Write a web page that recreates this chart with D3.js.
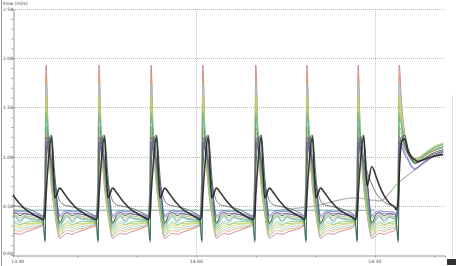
<!DOCTYPE html>
<html lang="en">
  <head>
    <meta charset="UTF-8" />
    <title>Flow</title>
    <script src="https://d3js.org/d3.v7.min.js"></script>
    <style>
      body { margin: 0; background: #fff; }
      text { font-family: "DejaVu Sans", sans-serif; fill: #444; }
    </style>
  </head>
  <body>
    <div id="graph"></div>
    <script>
      // minutes after 13:30
      var xTickMinutes = [0, 30, 60];
      var xTickLabels = ["13:30", "14:00", "14:30"];
      var yTicks = [0, 0.5, 1, 1.5, 2, 2.5];
      var yTickLabels = ["0.00", "0.50", "1.00", "1.50", "2.00", "2.50"];

      // time of each inspiratory spike (first one is left of the view)
      var peakTimes = [-4.05, 4.75, 13.65, 22.4, 31.1, 40.0, 48.6, 57.2, 64.1];

      // offsets (min) from the spike where the cycle values are read
      var cycleOffsets = [-0.5, -0.15, 0, 0.4, 0.9, 1.5, 2.3, 3.0, 3.6, 4.4, 5.2, 6.2, 7.9];
      var lastOffsets = [-0.5, -0.15, 0, 0.4, 0.9, 1.5, 2.0, 2.6, 3.2, 4.2, 5.5, 7.4];

      var seriesNames = ["red", "orange", "cyan", "yellow", "lime", "green", "teal",
        "seagreen", "olive", "darkgreen", "purple", "blue", "gray", "black"];
      var seriesColors = ["#c4606c", "#d9a05b", "#86d3e0", "#d3cc3c", "#a6cc5a", "#72bb72",
        "#4fae9e", "#5c9a78", "#9aa05c", "#2e5c44", "#7c62a8", "#4b4bc0", "#6a6a6a", "#222"];

      var cycleValues = [
        [0.30, 1.00, 1.93, 1.15, 0.72, 0.42, 0.17, 0.20, 0.22, 0.21, 0.23, 0.25, 0.29],
        [0.31, 0.95, 1.82, 1.12, 0.70, 0.42, 0.20, 0.23, 0.25, 0.24, 0.26, 0.27, 0.30],
        [0.32, 0.95, 1.74, 1.20, 0.75, 0.45, 0.19, 0.25, 0.28, 0.26, 0.28, 0.29, 0.31],
        [0.32, 0.90, 1.62, 1.18, 0.78, 0.48, 0.22, 0.27, 0.30, 0.28, 0.30, 0.31, 0.32],
        [0.33, 0.85, 1.52, 1.18, 0.80, 0.50, 0.24, 0.29, 0.32, 0.30, 0.32, 0.32, 0.33],
        [0.33, 0.80, 1.45, 1.20, 0.82, 0.52, 0.26, 0.31, 0.34, 0.31, 0.33, 0.34, 0.34],
        [0.34, 0.75, 1.40, 1.20, 0.85, 0.55, 0.28, 0.35, 0.39, 0.33, 0.38, 0.36, 0.35],
        [0.30, 0.13, 1.30, 1.18, 0.88, 0.58, 0.30, 0.37, 0.40, 0.35, 0.39, 0.37, 0.36],
        [0.36, 0.65, 1.25, 1.15, 0.90, 0.62, 0.33, 0.39, 0.41, 0.38, 0.40, 0.39, 0.37],
        [0.37, 0.15, 0.85, 1.15, 1.22, 0.80, 0.32, 0.41, 0.43, 0.40, 0.42, 0.41, 0.38],
        [0.38, 0.60, 1.20, 1.10, 0.92, 0.70, 0.38, 0.42, 0.43, 0.42, 0.42, 0.41, 0.39],
        [0.39, 0.55, 1.15, 1.08, 0.95, 0.72, 0.40, 0.44, 0.45, 0.44, 0.44, 0.43, 0.40],
        [0.40, 0.55, 1.00, 1.20, 0.98, 0.74, 0.55, 0.51, 0.50, 0.49, 0.48, 0.46, 0.41],
        [0.36, 0.42, 0.60, 0.95, 1.20, 0.58, 0.68, 0.63, 0.58, 0.52, 0.47, 0.43, 0.37]
      ];

      // the 14:27 cycle has a larger expiratory bump
      var grayCycle7 = [0.40, 0.55, 1.00, 1.20, 1.00, 0.85, 0.72, 0.63, 0.58, 0.54, 0.51, 0.49, 0.46];
      var blackCycle7 = [0.36, 0.42, 0.60, 0.95, 1.20, 0.70, 0.90, 0.80, 0.70, 0.60, 0.53, 0.48, 0.45];

      var lastValues = [
        [0.30, 1.00, 1.93, 1.55, 1.25, 1.08, 1.02, 0.98, 0.99, 1.02, 1.06, 1.10],
        [0.31, 0.95, 1.82, 1.50, 1.22, 1.06, 1.01, 0.97, 0.98, 1.02, 1.06, 1.10],
        [0.32, 0.95, 1.74, 1.45, 1.20, 1.05, 1.00, 0.96, 0.98, 1.03, 1.08, 1.12],
        [0.32, 0.90, 1.62, 1.40, 1.18, 1.05, 1.00, 0.96, 0.98, 1.03, 1.08, 1.13],
        [0.33, 0.85, 1.52, 1.36, 1.16, 1.04, 0.99, 0.95, 0.98, 1.03, 1.09, 1.14],
        [0.33, 0.80, 1.45, 1.33, 1.15, 1.04, 0.99, 0.95, 0.97, 1.02, 1.08, 1.13],
        [0.34, 0.75, 1.40, 1.30, 1.14, 1.03, 0.98, 0.94, 0.96, 1.01, 1.07, 1.12],
        [0.30, 0.13, 1.30, 1.25, 1.12, 1.03, 0.98, 0.94, 0.95, 1.00, 1.05, 1.10],
        [0.36, 0.65, 1.25, 1.22, 1.10, 1.02, 0.97, 0.93, 0.95, 1.00, 1.05, 1.09],
        [0.37, 0.15, 0.85, 1.15, 1.22, 1.08, 1.00, 0.93, 0.94, 0.98, 1.03, 1.07],
        [0.38, 0.60, 1.20, 1.15, 1.05, 0.98, 0.92, 0.88, 0.90, 0.95, 1.00, 1.05],
        [0.39, 0.55, 1.15, 1.10, 1.02, 0.96, 0.90, 0.87, 0.89, 0.94, 0.99, 1.04],
        [0.46, 0.55, 1.00, 1.20, 1.10, 1.02, 0.97, 0.93, 0.94, 0.98, 1.02, 1.05],
        [0.46, 0.55, 0.80, 1.15, 1.18, 1.05, 1.00, 0.97, 0.95, 0.97, 1.00, 1.02]
      ];

      var flatTimes = [-0.8, 60.0];
      var flatValues = [0.455, 0.455];
      var driftTimes = [44.0, 50.0, 56.5, 60.8, 63.9, 67.0, 71.5];
      var driftValues = [0.46, 0.5, 0.58, 0.55, 0.73, 0.88, 1.07];

      var width = 456,
        height = 266;
      var margin = { left: 13, right: 445, top: 9, bottom: 255 };

      var x = d3.scaleLinear().domain([-0.8, 71.8]).range([margin.left, margin.right]);
      var y = d3.scaleLinear().domain([0, 2.5]).range([margin.bottom, margin.top]);

      var svg = d3
        .select("#graph")
        .append("svg")
        .attr("width", width)
        .attr("height", height)
        .style("display", "block");

      svg.append("rect").attr("width", width).attr("height", height).attr("fill", "#fff");

      svg
        .append("clipPath")
        .attr("id", "plot")
        .append("rect")
        .attr("x", margin.left)
        .attr("y", 0)
        .attr("width", margin.right - margin.left)
        .attr("height", margin.bottom);

      // frame
      svg.append("line").attr("x1", 1.5).attr("x2", 1.5).attr("y1", 0).attr("y2", height)
        .attr("stroke", "#999").attr("stroke-width", 1);
      svg.append("line").attr("x1", 452.5).attr("x2", 452.5).attr("y1", 95).attr("y2", 258)
        .attr("stroke", "#e4e4e4").attr("stroke-width", 1);

      // grid
      svg
        .append("g")
        .selectAll("line")
        .data(yTicks.filter((d) => d > 0))
        .join("line")
        .attr("x1", margin.left)
        .attr("x2", margin.right)
        .attr("y1", (d) => Math.round(y(d)) + 0.5)
        .attr("y2", (d) => Math.round(y(d)) + 0.5)
        .attr("stroke", "#b8b8b8")
        .attr("stroke-dasharray", "1,1");

      svg
        .append("g")
        .selectAll("line")
        .data(xTickMinutes.filter((d) => d > 0))
        .join("line")
        .attr("x1", (d) => Math.round(x(d)) + 0.5)
        .attr("x2", (d) => Math.round(x(d)) + 0.5)
        .attr("y1", margin.top)
        .attr("y2", margin.bottom)
        .attr("stroke", "#c4c4c4")
        .attr("stroke-dasharray", "1,1");

      // axes
      var yAxis = svg
        .append("g")
        .attr("transform", "translate(" + (margin.left + 0.5) + ",0)")
        .call(d3.axisLeft(y).ticks(25).tickSize(2).tickFormat(""));
      yAxis.select(".domain").attr("stroke", "#999");
      yAxis.selectAll(".tick line").attr("stroke", "#999");

      var xAxis = svg
        .append("g")
        .attr("transform", "translate(0," + (margin.bottom + 0.5) + ")")
        .call(d3.axisBottom(x).tickValues(d3.range(0, 71, 10)).tickSize(2).tickFormat(""));
      xAxis.select(".domain").attr("stroke", "#999");
      xAxis.selectAll(".tick line").attr("stroke", "#999");

      svg
        .append("g")
        .selectAll("text")
        .data(yTicks)
        .join("text")
        .attr("x", 3)
        .attr("y", (d) => Math.min(y(d), 253) + 2)
        .attr("font-size", "4.5px")
        .text((d, i) => yTickLabels[i]);

      svg
        .append("g")
        .selectAll("text")
        .data(xTickMinutes)
        .join("text")
        .attr("x", (d) => x(d))
        .attr("y", 263)
        .attr("text-anchor", "middle")
        .attr("font-size", "4.5px")
        .text((d, i) => xTickLabels[i]);

      svg.append("text").attr("x", 3).attr("y", 5).attr("font-size", "4.5px").text("Flow (ml/s)");

      svg.append("rect").attr("x", 447).attr("y", 259).attr("width", 9).attr("height", 6).attr("fill", "#333");

      // build each trace from its cycle readings
      function buildSeries(s) {
        var pts = [];
        peakTimes.forEach(function (p, k) {
          var last = k == peakTimes.length - 1;
          var offs = last ? lastOffsets : cycleOffsets;
          var vals = last ? lastValues[s] : cycleValues[s];
          if (k == 7 && seriesNames[s] == "black") vals = blackCycle7;
          if (k == 7 && seriesNames[s] == "gray") vals = grayCycle7;
          var limit = last ? Infinity : peakTimes[k + 1] - 0.5;
          offs.forEach(function (o, i) {
            if (p + o < limit) pts.push([p + o, vals[i]]);
          });
        });
        return pts;
      }

      var line = d3
        .line()
        .x((d) => x(d[0]))
        .y((d) => y(d[1]))
        .curve(d3.curveMonotoneX);

      var traces = svg.append("g").attr("clip-path", "url(#plot)");

      traces
        .append("path")
        .attr("d", line(flatTimes.map((t, i) => [t, flatValues[i]])))
        .attr("fill", "none")
        .attr("stroke", "#6aaba4")
        .attr("stroke-width", 1);

      traces
        .append("path")
        .attr("d", line(driftTimes.map((t, i) => [t, driftValues[i]])))
        .attr("fill", "none")
        .attr("stroke", "#b5b5b5")
        .attr("stroke-width", 1.2);

      seriesNames.forEach(function (name, s) {
        traces
          .append("path")
          .attr("d", line(buildSeries(s)))
          .attr("fill", "none")
          .attr("stroke", seriesColors[s])
          .attr("stroke-width", name == "black" ? 1.6 : name == "gray" || name == "darkgreen" ? 1 : 0.8)
          .attr("stroke-opacity", 0.9);
      });
    </script>
  </body>
</html>
